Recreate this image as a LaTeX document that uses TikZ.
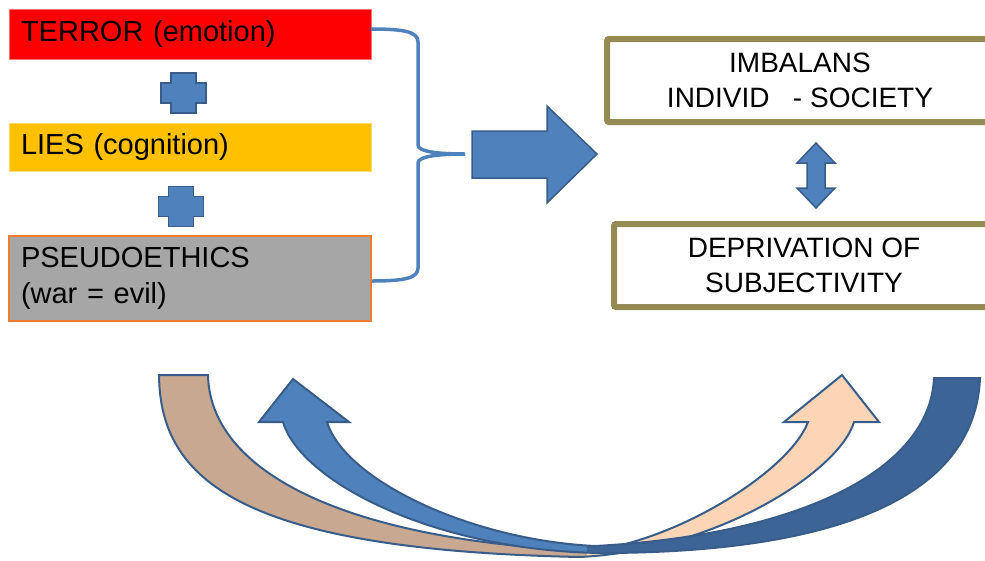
\documentclass[tikz,border=0pt]{standalone}
\usepackage{fontspec}
\setmainfont{Liberation Sans}

\definecolor{shapeblue}{HTML}{4F81BD}
\definecolor{shapeline}{HTML}{385D8A}
\definecolor{darkband}{RGB}{61,100,150}
\definecolor{tanband}{RGB}{200,168,144}
\definecolor{peachband}{RGB}{251,213,181}
\definecolor{olivebox}{HTML}{948A54}
\definecolor{liesyellow}{HTML}{FFC000}
\definecolor{ethicsgray}{HTML}{A6A6A6}
\definecolor{ethicsorange}{RGB}{237,125,49}

\tikzset{
	leftbox/.style={rectangle, minimum width=362pt, inner xsep=12pt, inner ysep=0pt,
		text width=338pt, align=left, font=\fontsize{29}{36}\selectfont},
	rightbox/.style={rectangle, draw=olivebox, line width=6pt, rounded corners=2pt,
		minimum height=83pt, inner sep=0pt, align=center, font=\fontsize{28}{35}\selectfont},
	blockarrow/.style={fill=shapeblue, draw=shapeline, line width=1.5pt, line join=miter},
	bandline/.style={draw=shapeline, line width=2pt, line join=miter},
	bracket/.style={draw=shapeblue, line width=3.5pt},
	plussign/.pic={
		\path[blockarrow] (-12.5,-20) -- (12.5,-20) -- (12.5,-10) -- (22.5,-10)
			-- (22.5,10) -- (12.5,10) -- (12.5,20) -- (-12.5,20) -- (-12.5,10)
			-- (-22.5,10) -- (-22.5,-10) -- (-12.5,-10) -- cycle;
	}
}

\begin{document}
\begin{tikzpicture}[x=1pt, y=-1pt]
	\useasboundingbox (0,0) rectangle (985,560);
	\clip (0,0) rectangle (985,560);

	% left column
	\node[leftbox, fill=red, draw=red!55, minimum height=50pt] (terror) at (190,34)
		{TERROR (emotion)};
	\node[leftbox, fill=liesyellow, draw=liesyellow!60, minimum height=48pt] (lies) at (190,147)
		{LIES (cognition)};
	\node[leftbox, fill=ethicsgray, draw=ethicsorange, line width=1.5pt, minimum height=85pt] (ethics) at (190,278.5)
		{PSEUDOETHICS\\(war = evil)};
	\pic at (183.5,93) {plussign};
	\pic at (181,206.5) {plussign};

	% bracket
	\draw[bracket] ([yshift=5pt]terror.east) .. controls (405,29) and (418,32) .. (418,42)
		-- (418,145) .. controls (418,152) and (440,154) .. (465,154)
		.. controls (440,154) and (418,156) .. (418,163)
		-- (418,268) .. controls (418,278) and (405,281) .. ([yshift=-2.5pt]ethics.east);

	% big arrow
	\path[blockarrow] (472,131) -- (547,131) -- (547,106) -- (597,154)
		-- (547,203) -- (547,178) -- (472,178) -- cycle;

	% right column
	\node[rightbox, minimum width=386pt] (imbalans) at (800,80.5)
		{IMBALANS\\INDIVID~~ - SOCIETY};
	\node[rightbox, minimum width=380pt] (deprivation) at (804,265.5)
		{DEPRIVATION OF\\SUBJECTIVITY};
	\path[blockarrow] (816,143) -- (835,163) -- (825,163) -- (825,188) -- (835,188)
		-- (816,208) -- (797,188) -- (807,188) -- (807,163) -- (797,163) -- cycle;

	% curved arrows
	\path[bandline, fill=peachband,
		path picture={\fill[tanband] (path picture bounding box.north west)
			rectangle ([xshift=428pt]path picture bounding box.south west);}]
		(159,375) .. controls (160,480) and (240,550) .. (580,557)
		.. controls (720,550) and (840,470) .. (854,422) -- (879,422) -- (842,375)
		-- (784,422) -- (808,422) .. controls (790,470) and (680,540) .. (590,551)
		.. controls (340,540) and (210,470) .. (208,375) -- cycle;
	\path[bandline, fill=darkband,
		path picture={\fill[shapeblue] (path picture bounding box.north west)
			rectangle ([xshift=328pt]path picture bounding box.south west);}]
		(980,378) .. controls (975,500) and (830,553) .. (600,553)
		.. controls (430,550) and (300,480) .. (283,422) -- (259,422) -- (293,379)
		-- (349,422) -- (327,422) .. controls (345,480) and (470,540) .. (595,546)
		.. controls (800,535) and (930,470) .. (934,378) -- cycle;
\end{tikzpicture}
\end{document}
